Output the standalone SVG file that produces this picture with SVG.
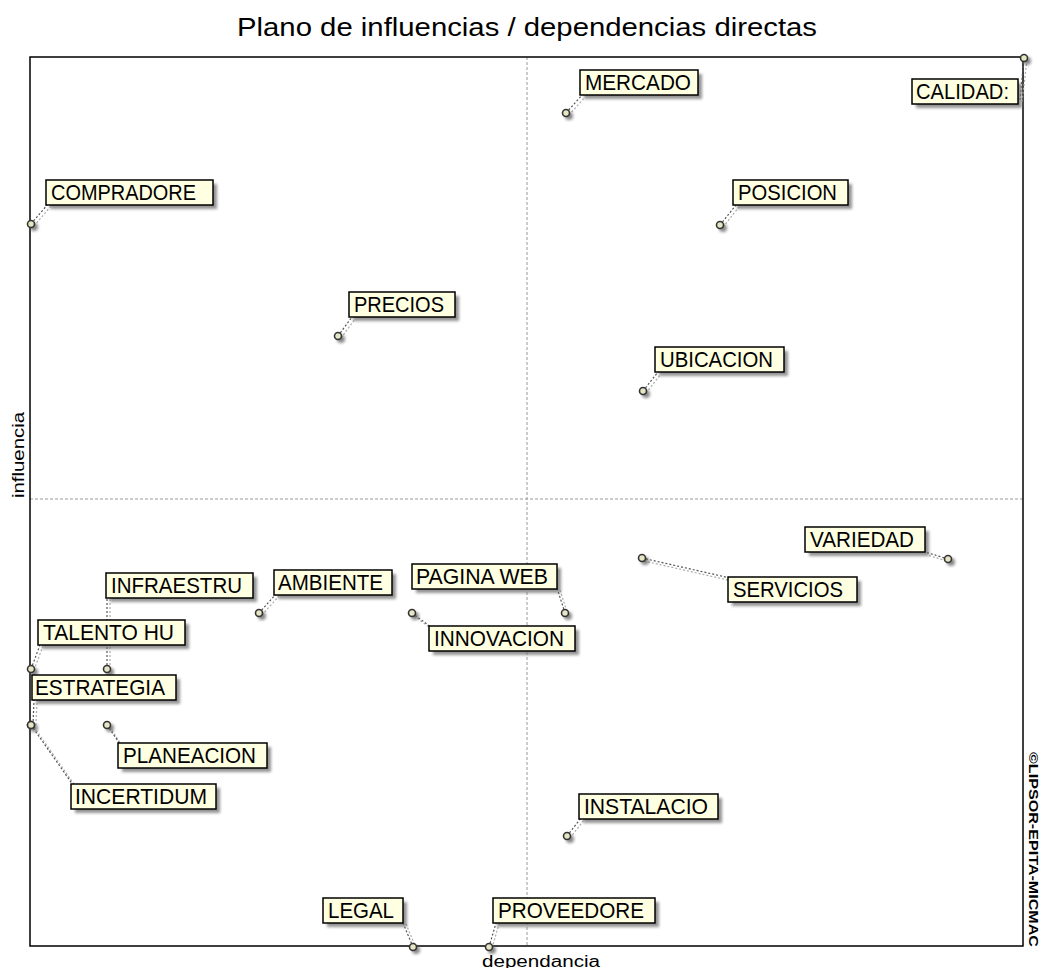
<svg xmlns="http://www.w3.org/2000/svg" width="1044" height="968" viewBox="0 0 1044 968">
<defs>
<filter id="sh" x="-20%" y="-40%" width="150%" height="200%"><feGaussianBlur stdDeviation="1.5"/></filter>
<style>
.bx{fill:#ffffe1;stroke:#000;stroke-width:1.5}
.bs{fill:#6f6f6f;opacity:.75;filter:url(#sh)}
.lt{font-family:"Liberation Sans",Arial,sans-serif;font-size:22px;fill:#000}
.pt{fill:#e6e6c4;stroke:#333;stroke-width:1.6}
.ps{fill:#555;opacity:.7;filter:url(#sh)}
.cn{stroke:#555;stroke-width:1.2;stroke-dasharray:2 2;fill:none}
.cs{stroke:#aaa;stroke-width:1.2;stroke-dasharray:2 2;fill:none}
.ax{font-family:"Liberation Sans",Arial,sans-serif;font-size:16px;fill:#000}
</style>
</defs>
<rect width="1044" height="968" fill="#fff"/>
<text x="527" y="36" text-anchor="middle" font-family="Liberation Sans,Arial,sans-serif" font-size="25" textLength="580" lengthAdjust="spacingAndGlyphs">Plano de influencias / dependencias directas</text>
<g id="frame">
<line x1="527" y1="57" x2="527" y2="946" stroke="#999" stroke-dasharray="3 2"/>
<line x1="30" y1="499" x2="1023" y2="499" stroke="#999" stroke-dasharray="3 2"/>
<rect x="30" y="57" width="993" height="889" fill="none" stroke="#000" stroke-width="1.5"/>
</g>
<text class="ax" transform="translate(24,455) rotate(-90)" text-anchor="middle" textLength="86" lengthAdjust="spacingAndGlyphs">influencia</text>
<text class="ax" x="541" y="967" text-anchor="middle" textLength="118" lengthAdjust="spacingAndGlyphs">dependancia</text>
<text transform="translate(1029,752) rotate(90)" font-family="Liberation Sans,Arial,sans-serif" font-size="13" font-weight="bold" textLength="195" lengthAdjust="spacingAndGlyphs">©LIPSOR-EPITA-MICMAC</text>
<g id="connectors">
<line class="cs" x1="569" y1="115" x2="585" y2="97"/><line class="cn" x1="566" y1="113" x2="582" y2="95"/>
<line class="cs" x1="1027" y1="60" x2="1022" y2="102"/><line class="cn" x1="1024" y1="58" x2="1020" y2="100"/>
<line class="cs" x1="34" y1="226" x2="51" y2="206"/><line class="cn" x1="31" y1="224" x2="48" y2="204"/>
<line class="cs" x1="723" y1="227" x2="739" y2="207"/><line class="cn" x1="720" y1="225" x2="736" y2="205"/>
<line class="cs" x1="341" y1="338" x2="355" y2="319"/><line class="cn" x1="338" y1="336" x2="352" y2="317"/>
<line class="cs" x1="646" y1="393" x2="661" y2="374"/><line class="cn" x1="643" y1="391" x2="658" y2="372"/>
<line class="cs" x1="950" y1="562" x2="927" y2="555"/><line class="cn" x1="948" y1="559" x2="925" y2="552"/>
<line class="cs" x1="644" y1="561" x2="732" y2="581"/><line class="cn" x1="642" y1="558" x2="730" y2="578"/>
<line class="cs" x1="568" y1="615" x2="560" y2="590"/><line class="cn" x1="565" y1="613" x2="557" y2="588"/>
<line class="cs" x1="414" y1="616" x2="433" y2="630"/><line class="cn" x1="412" y1="613" x2="431" y2="627"/>
<line class="cs" x1="262" y1="615" x2="279" y2="596"/><line class="cn" x1="259" y1="613" x2="276" y2="594"/>
<line class="cs" x1="110" y1="669" x2="110" y2="598"/><line class="cn" x1="107" y1="669" x2="107" y2="598"/>
<line class="cs" x1="34" y1="670" x2="43" y2="646"/><line class="cn" x1="31" y1="669" x2="40" y2="645"/>
<line class="cs" x1="36" y1="725" x2="37" y2="700"/><line class="cn" x1="33" y1="725" x2="34" y2="700"/>
<line class="cs" x1="110" y1="727" x2="122" y2="746"/><line class="cn" x1="107" y1="725" x2="120" y2="744"/>
<line class="cs" x1="34" y1="727" x2="76" y2="787"/><line class="cn" x1="31" y1="725" x2="73" y2="785"/>
<line class="cs" x1="570" y1="838" x2="584" y2="820"/><line class="cn" x1="567" y1="836" x2="581" y2="818"/>
<line class="cs" x1="416" y1="948" x2="406" y2="924"/><line class="cn" x1="413" y1="947" x2="403" y2="923"/>
<line class="cs" x1="492" y1="948" x2="499" y2="924"/><line class="cn" x1="489" y1="947" x2="496" y2="923"/>
</g>
<g id="n-mercado"><circle class="ps" cx="569" cy="116" r="4"/><circle class="pt" cx="566" cy="113" r="3.5"/><rect class="bs" x="584" y="74" width="118" height="25"/><rect class="bx" x="580" y="70" width="118" height="25"/><text class="lt" x="585" y="90" textLength="106" lengthAdjust="spacingAndGlyphs">MERCADO</text></g>
<g id="n-calidad"><circle class="ps" cx="1027" cy="61" r="4"/><circle class="pt" cx="1024" cy="58" r="3.5"/><rect class="bs" x="916" y="83" width="106" height="25"/><rect class="bx" x="912" y="79" width="106" height="25"/><text class="lt" x="916" y="99" textLength="93" lengthAdjust="spacingAndGlyphs">CALIDAD:</text></g>
<g id="n-compradore"><circle class="ps" cx="34" cy="227" r="4"/><circle class="pt" cx="31" cy="224" r="3.5"/><rect class="bs" x="50" y="184" width="167" height="25"/><rect class="bx" x="46" y="180" width="167" height="25"/><text class="lt" x="51" y="200" textLength="145" lengthAdjust="spacingAndGlyphs">COMPRADORE</text></g>
<g id="n-posicion"><circle class="ps" cx="723" cy="228" r="4"/><circle class="pt" cx="720" cy="225" r="3.5"/><rect class="bs" x="737" y="184" width="115" height="25"/><rect class="bx" x="733" y="180" width="115" height="25"/><text class="lt" x="738" y="200" textLength="99" lengthAdjust="spacingAndGlyphs">POSICION</text></g>
<g id="n-precios"><circle class="ps" cx="341" cy="339" r="4"/><circle class="pt" cx="338" cy="336" r="3.5"/><rect class="bs" x="353" y="296" width="106" height="25"/><rect class="bx" x="349" y="292" width="106" height="25"/><text class="lt" x="354" y="312" textLength="90" lengthAdjust="spacingAndGlyphs">PRECIOS</text></g>
<g id="n-ubicacion"><circle class="ps" cx="646" cy="394" r="4"/><circle class="pt" cx="643" cy="391" r="3.5"/><rect class="bs" x="659" y="351" width="129" height="25"/><rect class="bx" x="655" y="347" width="129" height="25"/><text class="lt" x="660" y="367" textLength="113" lengthAdjust="spacingAndGlyphs">UBICACION</text></g>
<g id="n-variedad"><circle class="ps" cx="951" cy="562" r="4"/><circle class="pt" cx="948" cy="559" r="3.5"/><rect class="bs" x="809" y="531" width="120" height="25"/><rect class="bx" x="805" y="527" width="120" height="25"/><text class="lt" x="810" y="547" textLength="104" lengthAdjust="spacingAndGlyphs">VARIEDAD</text></g>
<g id="n-servicios"><circle class="ps" cx="645" cy="561" r="4"/><circle class="pt" cx="642" cy="558" r="3.5"/><rect class="bs" x="732" y="581" width="129" height="25"/><rect class="bx" x="728" y="577" width="129" height="25"/><text class="lt" x="733" y="597" textLength="110" lengthAdjust="spacingAndGlyphs">SERVICIOS</text></g>
<g id="n-paginaweb"><circle class="ps" cx="568" cy="616" r="4"/><circle class="pt" cx="565" cy="613" r="3.5"/><rect class="bs" x="416" y="568" width="145" height="25"/><rect class="bx" x="412" y="564" width="145" height="25"/><text class="lt" x="416" y="584" textLength="132" lengthAdjust="spacingAndGlyphs">PAGINA WEB</text></g>
<g id="n-innovacion"><circle class="ps" cx="415" cy="616" r="4"/><circle class="pt" cx="412" cy="613" r="3.5"/><rect class="bs" x="433" y="630" width="146" height="25"/><rect class="bx" x="429" y="626" width="146" height="25"/><text class="lt" x="434" y="646" textLength="130" lengthAdjust="spacingAndGlyphs">INNOVACION</text></g>
<g id="n-ambiente"><circle class="ps" cx="262" cy="616" r="4"/><circle class="pt" cx="259" cy="613" r="3.5"/><rect class="bs" x="278" y="574" width="118" height="25"/><rect class="bx" x="274" y="570" width="118" height="25"/><text class="lt" x="278" y="590" textLength="105" lengthAdjust="spacingAndGlyphs">AMBIENTE</text></g>
<g id="n-infraestru"><circle class="ps" cx="110" cy="672" r="4"/><circle class="pt" cx="107" cy="669" r="3.5"/><rect class="bs" x="110" y="577" width="147" height="25"/><rect class="bx" x="106" y="573" width="147" height="25"/><text class="lt" x="111" y="593" textLength="131" lengthAdjust="spacingAndGlyphs">INFRAESTRU</text></g>
<g id="n-talentohu"><circle class="ps" cx="34" cy="672" r="4"/><circle class="pt" cx="31" cy="669" r="3.5"/><rect class="bs" x="42" y="624" width="147" height="25"/><rect class="bx" x="38" y="620" width="147" height="25"/><text class="lt" x="43" y="640" textLength="131" lengthAdjust="spacingAndGlyphs">TALENTO HU</text></g>
<g id="n-incertidum"><circle class="ps" cx="34" cy="728" r="4"/><circle class="pt" cx="31" cy="725" r="3.5"/><rect class="bs" x="75" y="788" width="145" height="25"/><rect class="bx" x="71" y="784" width="145" height="25"/><text class="lt" x="75" y="804" textLength="132" lengthAdjust="spacingAndGlyphs">INCERTIDUM</text></g>
<g id="n-estrategia"><circle class="pt" cx="31" cy="725" r="3.5"/><rect class="bs" x="36" y="679" width="144" height="25"/><rect class="bx" x="32" y="675" width="144" height="25"/><text class="lt" x="35" y="695" textLength="130" lengthAdjust="spacingAndGlyphs">ESTRATEGIA</text></g>
<g id="n-planeacion"><circle class="ps" cx="110" cy="728" r="4"/><circle class="pt" cx="107" cy="725" r="3.5"/><rect class="bs" x="122" y="747" width="149" height="25"/><rect class="bx" x="118" y="743" width="149" height="25"/><text class="lt" x="123" y="763" textLength="133" lengthAdjust="spacingAndGlyphs">PLANEACION</text></g>
<g id="n-instalacio"><circle class="ps" cx="570" cy="839" r="4"/><circle class="pt" cx="567" cy="836" r="3.5"/><rect class="bs" x="583" y="798" width="139" height="25"/><rect class="bx" x="579" y="794" width="139" height="25"/><text class="lt" x="584" y="814" textLength="124" lengthAdjust="spacingAndGlyphs">INSTALACIO</text></g>
<g id="n-legal"><circle class="ps" cx="416" cy="950" r="4"/><circle class="pt" cx="413" cy="947" r="3.5"/><rect class="bs" x="327" y="902" width="80" height="25"/><rect class="bx" x="323" y="898" width="80" height="25"/><text class="lt" x="328" y="918" textLength="66" lengthAdjust="spacingAndGlyphs">LEGAL</text></g>
<g id="n-proveedore"><circle class="ps" cx="492" cy="950" r="4"/><circle class="pt" cx="489" cy="947" r="3.5"/><rect class="bs" x="497" y="902" width="162" height="25"/><rect class="bx" x="493" y="898" width="162" height="25"/><text class="lt" x="498" y="918" textLength="146" lengthAdjust="spacingAndGlyphs">PROVEEDORE</text></g>
</svg>
